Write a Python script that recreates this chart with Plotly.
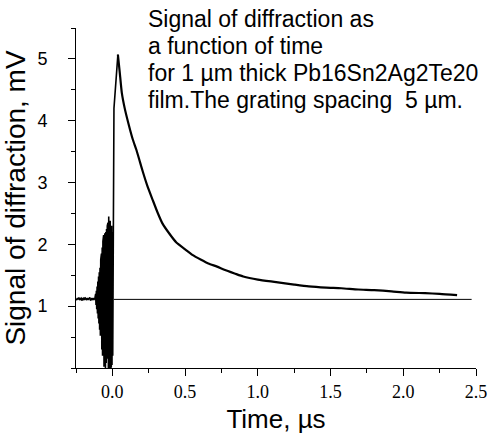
import plotly.graph_objects as go

# Pre-trigger baseline (time in µs, signal in mV)
pre_t = [-0.250, -0.245, -0.240, -0.235, -0.230, -0.225, -0.220, -0.215, -0.210, -0.205,
         -0.200, -0.195, -0.190, -0.185, -0.180, -0.175, -0.170, -0.165, -0.160, -0.155,
         -0.150, -0.145, -0.140, -0.135, -0.130, -0.125, -0.120]
pre_v = [1.12, 1.10, 1.13, 1.11, 1.14, 1.10, 1.12, 1.13, 1.09, 1.12,
         1.11, 1.14, 1.10, 1.13, 1.12, 1.10, 1.13, 1.11, 1.12, 1.14,
         1.09, 1.12, 1.13, 1.10, 1.12, 1.11, 1.13]

# Burst of pickup oscillations before the pulse: (upper, lower) excursions every 0.005 µs
burst_t = [-0.115, -0.110, -0.105, -0.100, -0.095, -0.090, -0.085, -0.080, -0.075, -0.070,
           -0.065, -0.060, -0.055, -0.050, -0.045, -0.040, -0.035, -0.030, -0.025, -0.020,
           -0.015, -0.010, -0.005, 0.000, 0.005]
burst_hi = [1.20, 1.25, 1.32, 1.40, 1.48, 1.55, 1.62, 1.75, 1.85, 1.95,
            2.05, 2.15, 2.12, 2.18, 2.20, 2.25, 2.30, 2.35, 2.45, 2.40,
            2.38, 2.35, 2.30, 2.20, 1.90]
burst_lo = [1.02, 0.95, 0.88, 0.80, 0.72, 0.62, 0.52, 0.40, 0.30, 0.20,
            0.10, 0.02, 0.05, 0.00, 0.08, 0.15, 0.05, 0.00, 0.00, 0.02,
            0.00, 0.02, 0.05, 0.20, 0.60]

# Rising edge
rise_t = [0.009, 0.011, 0.038]
rise_v = [1.10, 4.20, 5.07]

# Decay of the diffraction signal
decay_t = [0.038, 0.05, 0.065, 0.085, 0.11, 0.14, 0.165, 0.19, 0.21, 0.24, 0.277, 0.31,
           0.344, 0.39, 0.44, 0.50, 0.55, 0.61, 0.66, 0.72, 0.77, 0.84, 0.90, 1.0,
           1.126, 1.25, 1.35, 1.47, 1.573, 1.69, 1.80, 1.92, 2.02, 2.15, 2.25, 2.37]
decay_v = [5.07, 4.80, 4.45, 4.20, 3.96, 3.70, 3.53, 3.33, 3.17, 2.95, 2.72, 2.52,
           2.34, 2.18, 2.03, 1.92, 1.83, 1.75, 1.69, 1.64, 1.59, 1.53, 1.48, 1.43,
           1.39, 1.35, 1.32, 1.30, 1.29, 1.27, 1.26, 1.24, 1.22, 1.21, 1.20, 1.18]

# Baseline level
base_t = [0.01, 2.47]
base_v = [1.11, 1.11]

x_ticks = [0.0, 0.5, 1.0, 1.5, 2.0, 2.5]
y_ticks = [1, 2, 3, 4, 5]

note_lines = ["Signal of diffraction as",
              "a function of time",
              "for 1 µm thick Pb16Sn2Ag2Te20",
              "film.The grating spacing  5 µm."]

# assemble burst as alternating samples
bt, bv = [], []
step = 0.0025
for t, hi, lo in zip(burst_t, burst_hi, burst_lo):
    bt += [t, t + step]
    bv += [hi, lo]

fig = go.Figure()
fig.add_trace(go.Scatter(x=base_t, y=base_v, mode="lines",
                         line=dict(color="black", width=1), hoverinfo="skip"))
fig.add_trace(go.Scatter(x=pre_t + bt + rise_t, y=pre_v + bv + rise_v, mode="lines",
                         line=dict(color="black", width=1.6)))
fig.add_trace(go.Scatter(x=decay_t, y=decay_v, mode="lines",
                         line=dict(color="black", width=2.2, shape="spline", smoothing=0.6)))

for i, line in enumerate(note_lines):
    fig.add_annotation(x=(148 - 75) / 410, y=(368 - (5 + 27 * i)) / 340,
                       xref="paper", yref="paper",
                       text=line.replace("  ", "&nbsp; "), showarrow=False,
                       xanchor="left", yanchor="top", borderpad=0,
                       font=dict(family="Arial, Liberation Sans", size=23, color="black"))

fig.update_layout(
    width=499, height=441,
    margin=dict(l=75, r=14, t=28, b=73),
    paper_bgcolor="white", plot_bgcolor="white",
    showlegend=False,
    xaxis=dict(range=[-0.25, 2.5], tickvals=x_ticks, ticktext=[f"{v:.1f}" for v in x_ticks],
               showgrid=False, zeroline=False, showline=True, linecolor="black", linewidth=1,
               ticks="outside", ticklen=7, tickcolor="black",
               minor=dict(tickmode="linear", tick0=0, dtick=0.25, ticks="outside", ticklen=4, tickcolor="black"),
               tickfont=dict(family="Liberation Serif, Times New Roman", size=18, color="black"),
               title=dict(text="Time, µs", font=dict(family="Arial, Liberation Sans", size=26, color="black"), standoff=9)),
    yaxis=dict(range=[0, 5.5], tickvals=y_ticks,
               showgrid=False, zeroline=False, showline=True, linecolor="black", linewidth=1,
               ticks="outside", ticklen=7, tickcolor="black", ticklabelstandoff=17,
               minor=dict(tickmode="linear", tick0=0, dtick=0.5, ticks="outside", ticklen=4, tickcolor="black"),
               tickfont=dict(family="Arial, Liberation Sans", size=18, color="black"),
               title=dict(text="Signal of diffraction, mV", font=dict(family="Arial, Liberation Sans", size=28, color="black"), standoff=6)),
)

fig.write_html("out.html")
